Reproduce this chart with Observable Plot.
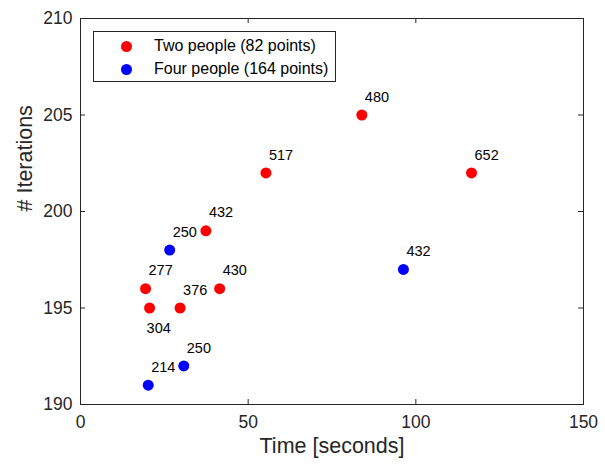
<!DOCTYPE html>
<html>
<head>
<meta charset="utf-8">
<script src="https://cdn.jsdelivr.net/npm/d3@7"></script>
<script src="https://cdn.jsdelivr.net/npm/@observablehq/plot@0.6"></script>
<style>
  body { margin: 0; background: #fff; }
  #wrap { position: relative; width: 605px; height: 465px; font-family: "Liberation Sans", Arial, Helvetica, sans-serif; }
  #legend { position: absolute; left: 93px; top: 31px; width: 243px; height: 51px; border: 1px solid #262626; background: #fff; box-sizing: border-box; }
  .li { position: absolute; left: 0; height: 20px; display: flex; align-items: center; font-size: 16px; color: #000; white-space: nowrap; }
  .sw { position: absolute; width: 11px; height: 11px; border-radius: 50%; left: 27px; }
  .lt { position: absolute; left: 60px; }
</style>
</head>
<body>
<div id="wrap"></div>
<script>
// ---- data ----
const twoTime  = [19.4, 20.6, 29.7, 37.4, 41.5, 55.3, 83.9, 116.6];
const twoIter  = [196, 195, 195, 199, 196, 202, 205, 202];
const twoLabel = ["277", "304", "376", "432", "430", "517", "480", "652"];
const twoSide  = ["above", "below", "above", "above", "above", "above", "above", "above"];

const fourTime  = [26.6, 30.8, 20.2, 96.3];
const fourIter  = [198, 192, 191, 197];
const fourLabel = ["250", "250", "214", "432"];
const fourSide  = ["above", "above", "above", "above"];

const seriesNames  = ["Two people (82 points)", "Four people (164 points)"];
const seriesColors = ["#ff0000", "#0000ff"];

const xTicks = [0, 50, 100, 150];
const yTicks = [190, 195, 200, 205, 210];

// ---- table ----
const rows = [
  ...twoTime.map((t, i) => ({time: t, iter: twoIter[i], label: twoLabel[i], side: twoSide[i], series: seriesNames[0]})),
  ...fourTime.map((t, i) => ({time: t, iter: fourIter[i], label: fourLabel[i], side: fourSide[i], series: seriesNames[1]}))
];

const W = 605, H = 465, mL = 80, mR = 22, mT = 18, mB = 61;
const pw = W - mL - mR, ph = H - mT - mB, tk = 5;
const ink = "#262626";

const chart = Plot.plot({
  width: W, height: H,
  marginLeft: mL, marginRight: mR, marginTop: mT, marginBottom: mB,
  style: {fontFamily: "'Liberation Sans', Arial, Helvetica, sans-serif", color: ink, background: "#fff"},
  x: {domain: [0, 150], label: null},
  y: {domain: [190, 210], label: null},
  color: {domain: seriesNames, range: seriesColors},
  marks: [
    Plot.axisX({ticks: xTicks, tickSize: 0, tickPadding: 11, fontSize: 17.5, label: null, fill: ink}),
    Plot.axisY({ticks: yTicks, tickSize: 0, tickPadding: 8, fontSize: 17.5, label: null, fill: ink}),
    Plot.tickX(xTicks, {x: d => d, insetTop: ph - tk, stroke: ink}),
    Plot.tickX(xTicks, {x: d => d, insetBottom: ph - tk, stroke: ink}),
    Plot.tickY(yTicks, {y: d => d, insetLeft: pw - tk, stroke: ink}),
    Plot.tickY(yTicks, {y: d => d, insetRight: pw - tk, stroke: ink}),
    Plot.frame({stroke: ink, strokeWidth: 1}),
    Plot.dot(rows, {x: "time", y: "iter", fill: "series", r: 5.5, stroke: null}),
    Plot.text(rows.filter(d => d.side === "above"), {x: "time", y: "iter", text: "label", dx: 3, dy: -18, textAnchor: "start", fontSize: 14.5, fill: "#000"}),
    Plot.text(rows.filter(d => d.side === "below"), {x: "time", y: "iter", text: "label", dx: -3, dy: 20, textAnchor: "start", fontSize: 14.5, fill: "#000"}),
    Plot.text(["Time [seconds]"], {frameAnchor: "bottom", dy: 48, fontSize: 21.5, fill: ink}),
    Plot.text(["# Iterations"], {frameAnchor: "left", dx: -55, rotate: -90, fontSize: 21.5, fill: ink})
  ]
});

const wrap = document.getElementById("wrap");
wrap.appendChild(chart);

// legend
const leg = document.createElement("div");
leg.id = "legend";
seriesNames.forEach((name, i) => {
  const li = document.createElement("div");
  li.className = "li";
  li.style.top = (4 + i * 23) + "px";
  li.style.width = "100%";
  const sw = document.createElement("span");
  sw.className = "sw";
  sw.style.background = seriesColors[i];
  const lt = document.createElement("span");
  lt.className = "lt";
  lt.textContent = name;
  li.appendChild(sw); li.appendChild(lt);
  leg.appendChild(li);
});
wrap.appendChild(leg);
</script>
</body>
</html>
